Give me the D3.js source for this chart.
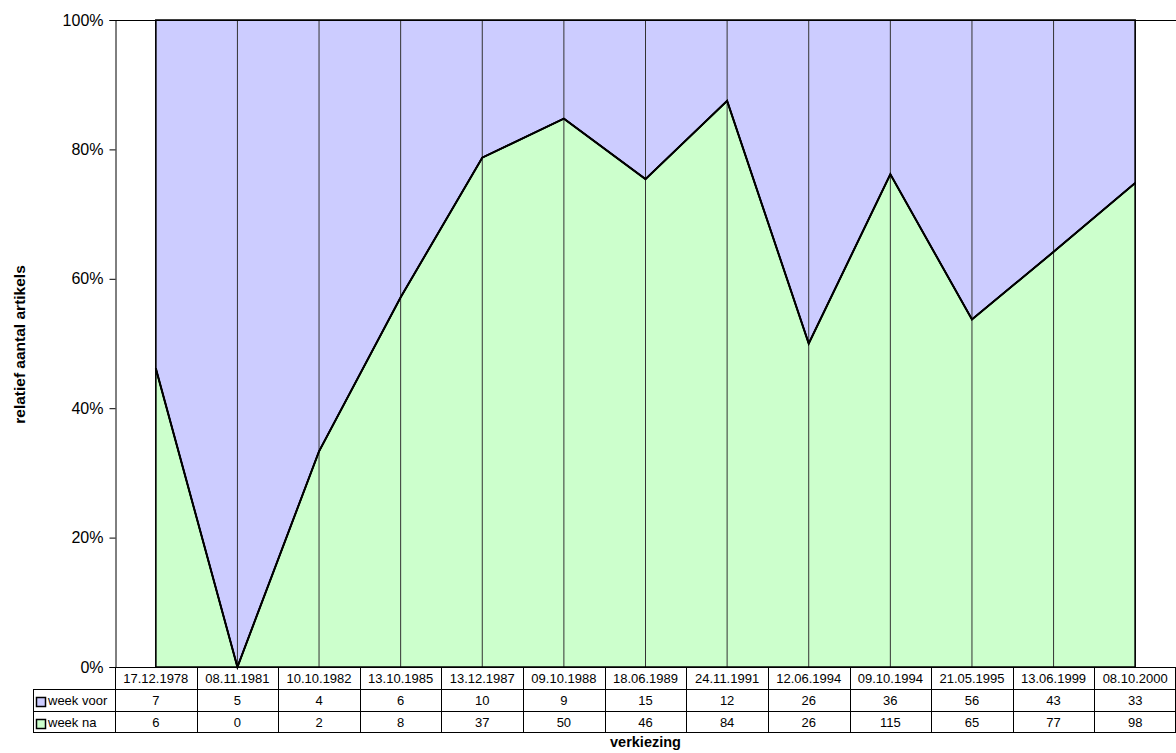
<!DOCTYPE html>
<html>
<head>
<meta charset="utf-8">
<script src="https://cdn.jsdelivr.net/npm/d3@7.9.0/dist/d3.min.js"></script>
<style>
  body { margin: 0; background: #fff; }
  svg { display: block; font-family: "Liberation Sans", Arial, sans-serif; }
</style>
</head>
<body>
<svg id="chart" width="1176" height="753"></svg>
<script>
const dates = ['17.12.1978', '08.11.1981', '10.10.1982', '13.10.1985', '13.12.1987', '09.10.1988',
  '18.06.1989', '24.11.1991', '12.06.1994', '09.10.1994', '21.05.1995', '13.06.1999', '08.10.2000'];
const weekVoor = [7, 5, 4, 6, 10, 9, 15, 12, 26, 36, 56, 43, 33];
const weekNa = [6, 0, 2, 8, 37, 50, 46, 84, 26, 115, 65, 77, 98];
const yTicks = [0, 0.2, 0.4, 0.6, 0.8, 1];

const seriesNames = ['week voor', 'week na'];
const colors = { 'week voor': '#ccccff', 'week na': '#ccffcc' };

const svg = d3.select('#chart');
const plotLeft = 115, plotRight = 1176, plotTop = 20, plotBottom = 667;

const x = d3.scaleBand().domain(dates).range([plotLeft, plotRight]);
const y = d3.scaleLinear().domain([0, 1]).range([plotBottom, plotTop]);

// share of "week na" per election
const rows = dates.map((d, i) => {
  const tot = weekVoor[i] + weekNa[i];
  return { date: d, na: weekNa[i] / tot };
});

const cx = (d) => x(d.date) + x.bandwidth() / 2;

// blue (week voor) on top, green (week na) below
const areaTop = d3.area().x(cx).y0((d) => y(d.na)).y1(y(1));
const areaBottom = d3.area().x(cx).y0(y(0)).y1((d) => y(d.na));

svg.append('path').datum(rows).attr('d', areaTop)
  .attr('fill', colors['week voor']).attr('stroke', 'none');
svg.append('path').datum(rows).attr('d', areaBottom)
  .attr('fill', colors['week na']).attr('stroke', 'none');

// drop lines
svg.selectAll('line.drop').data(rows).join('line')
  .attr('class', 'drop')
  .attr('x1', cx).attr('x2', cx)
  .attr('y1', y(1)).attr('y2', y(0))
  .attr('stroke', '#333').attr('stroke-width', 1);

// outlines
svg.append('path').datum(rows)
  .attr('d', areaTop)
  .attr('fill', 'none').attr('stroke', '#000').attr('stroke-width', 1.5);
svg.append('path').datum(rows)
  .attr('d', areaBottom)
  .attr('fill', 'none').attr('stroke', '#000').attr('stroke-width', 1.5);
svg.append('path').datum(rows)
  .attr('d', d3.line().x(cx).y((d) => y(d.na)))
  .attr('fill', 'none').attr('stroke', '#000').attr('stroke-width', 2);

// top border of the plot
svg.append('line')
  .attr('x1', plotLeft).attr('x2', plotRight).attr('y1', plotTop + 0.5).attr('y2', plotTop + 0.5)
  .attr('stroke', '#000');

// y axis
const yAxis = d3.axisLeft(y).tickValues(yTicks).tickFormat(d3.format('.0%'))
  .tickSize(6).tickPadding(6);
const gy = svg.append('g').attr('transform', `translate(${plotLeft + 0.5},0)`).call(yAxis);
gy.select('.domain').attr('stroke', '#000');
gy.selectAll('.tick line').attr('stroke', '#000');
gy.selectAll('.tick text').attr('font-size', 16).attr('fill', '#000')
  .attr('font-family', '"Liberation Sans", Arial, sans-serif');

svg.append('text')
  .attr('transform', `translate(25,${(plotTop + plotBottom) / 2 + 1}) rotate(-90)`)
  .attr('text-anchor', 'middle')
  .attr('font-size', 15.5).attr('font-weight', 'bold')
  .text('relatief aantal artikels');

// data table
const tableLeft = 33;
const rowY = [667, 689, 711, 732];
const tbl = svg.append('g').attr('stroke', '#000').attr('stroke-width', 1);

tbl.append('line').attr('x1', plotLeft).attr('x2', plotRight)
  .attr('y1', rowY[0] + 0.5).attr('y2', rowY[0] + 0.5);
[1, 2, 3].forEach((r) => {
  tbl.append('line').attr('x1', tableLeft).attr('x2', plotRight)
    .attr('y1', rowY[r] + 0.5).attr('y2', rowY[r] + 0.5);
});
tbl.append('line').attr('x1', tableLeft + 0.5).attr('x2', tableLeft + 0.5)
  .attr('y1', rowY[1]).attr('y2', rowY[3] + 1);
const colEdges = dates.map((d) => Math.round(x(d)) + 0.5).concat([plotRight - 0.5]);
tbl.selectAll('line.col').data(colEdges).join('line')
  .attr('class', 'col')
  .attr('x1', (d) => d).attr('x2', (d) => d)
  .attr('y1', rowY[0]).attr('y2', rowY[3] + 1);

const txt = svg.append('g').attr('font-size', 13).attr('fill', '#000').attr('text-anchor', 'middle');
txt.selectAll('text.date').data(dates).join('text')
  .attr('class', 'date')
  .attr('x', (d) => x(d) + x.bandwidth() / 2).attr('y', rowY[0] + 16)
  .text((d) => d);
txt.selectAll('text.voor').data(weekVoor).join('text')
  .attr('class', 'voor')
  .attr('x', (d, i) => x(dates[i]) + x.bandwidth() / 2).attr('y', rowY[1] + 16)
  .text((d) => d);
txt.selectAll('text.na').data(weekNa).join('text')
  .attr('class', 'na')
  .attr('x', (d, i) => x(dates[i]) + x.bandwidth() / 2).attr('y', rowY[2] + 16)
  .text((d) => d);

// legend keys in the table
seriesNames.forEach((name, i) => {
  const yy = rowY[i + 1];
  svg.append('rect')
    .attr('x', 36.5).attr('y', yy + 8.5).attr('width', 9).attr('height', 9)
    .attr('fill', colors[name]).attr('stroke', '#000').attr('stroke-width', 1.5);
  svg.append('text')
    .attr('x', 48).attr('y', yy + 16)
    .attr('font-size', 13).attr('fill', '#000')
    .text(name);
});

svg.append('text')
  .attr('x', (plotLeft + plotRight) / 2).attr('y', 747)
  .attr('text-anchor', 'middle')
  .attr('font-size', 14.5).attr('font-weight', 'bold')
  .text('verkiezing');
</script>
</body>
</html>
